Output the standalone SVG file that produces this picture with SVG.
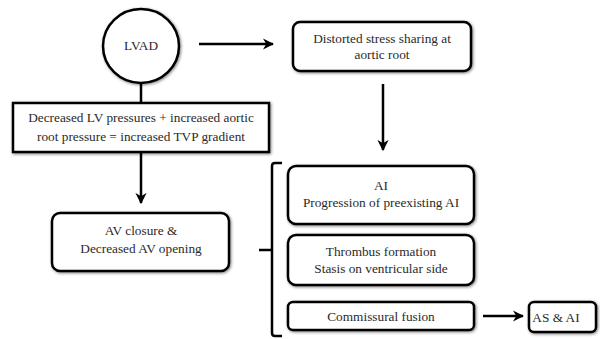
<svg xmlns="http://www.w3.org/2000/svg" width="600" height="339" viewBox="0 0 600 339">
<defs>
<marker id="ah" viewBox="0 0 10 10" refX="9" refY="5" markerWidth="4.5" markerHeight="4.5" orient="auto" markerUnits="strokeWidth">
<path d="M0,0 L10,5 L0,10 L3,5 z" fill="#000"/>
</marker>
<filter id="sh" x="-10%" y="-20%" width="120%" height="140%">
<feGaussianBlur in="SourceAlpha" stdDeviation="1.5"/>
<feOffset dx="1" dy="1" result="b"/>
<feComponentTransfer><feFuncA type="linear" slope="0.5"/></feComponentTransfer>
<feMerge><feMergeNode/><feMergeNode in="SourceGraphic"/></feMerge>
</filter>
</defs>
<style>
.box{fill:#fff;stroke:#000;stroke-width:2.5;filter:url(#sh)}
.t{font-family:'Liberation Serif','Times New Roman',serif;font-size:13.3px;fill:#2a2a2a;text-anchor:middle}
.c{fill:none;stroke:#000;stroke-width:2.5}
</style>
<rect width="600" height="339" fill="#fff"/>
<g id="connectors">
<line class="c" x1="199" y1="44" x2="273" y2="44" marker-end="url(#ah)"/>
<line class="c" x1="383" y1="84" x2="383" y2="150" marker-end="url(#ah)"/>
<line class="c" x1="141" y1="84" x2="141" y2="103"/>
<line class="c" x1="141" y1="152" x2="141" y2="203" marker-end="url(#ah)"/>
<path class="c" d="M282,163 L275,163 Q272,163 272,166 L272,333 Q272,336 275,336 L282,336 M259,250 L272,250"/>
<line class="c" x1="483" y1="316" x2="523" y2="316" marker-end="url(#ah)"/>
</g>
<g font-family="Liberation Serif, Times New Roman, serif">
<g id="lvad">
<ellipse class="box" cx="141" cy="46" rx="38" ry="37"/>
<text class="t" x="141" y="50">LVAD</text>
</g>
<g id="distorted">
<rect class="box" x="293" y="22" width="178" height="49" rx="7"/>
<text class="t" x="382" y="43">Distorted stress sharing at</text>
<text class="t" x="382" y="59">aortic root</text>
</g>
<g id="decreased">
<rect class="box" x="13" y="103" width="256" height="49"/>
<text class="t" x="141" y="122">Decreased LV pressures + increased aortic</text>
<text class="t" x="141" y="141">root pressure = increased TVP gradient</text>
</g>
<g id="avclosure">
<rect class="box" x="52" y="213" width="177" height="58" rx="8"/>
<text class="t" x="141" y="235">AV closure &amp;</text>
<text class="t" x="141" y="253">Decreased AV opening</text>
</g>
<g id="ai">
<rect class="box" x="288" y="166" width="186" height="58" rx="8"/>
<text class="t" x="381" y="190">AI</text>
<text class="t" x="381" y="207">Progression of preexisting AI</text>
</g>
<g id="thrombus">
<rect class="box" x="288" y="235" width="186" height="50" rx="8"/>
<text class="t" x="381" y="256">Thrombus formation</text>
<text class="t" x="381" y="273">Stasis on ventricular side</text>
</g>
<g id="commissural">
<rect class="box" x="288" y="302" width="186" height="28" rx="5"/>
<text class="t" x="381" y="321">Commissural fusion</text>
</g>
<g id="asai">
<rect class="box" x="529" y="302" width="67" height="30" rx="5"/>
<text class="t" x="556" y="322">AS &amp; AI</text>
</g>
</g>
</svg>
